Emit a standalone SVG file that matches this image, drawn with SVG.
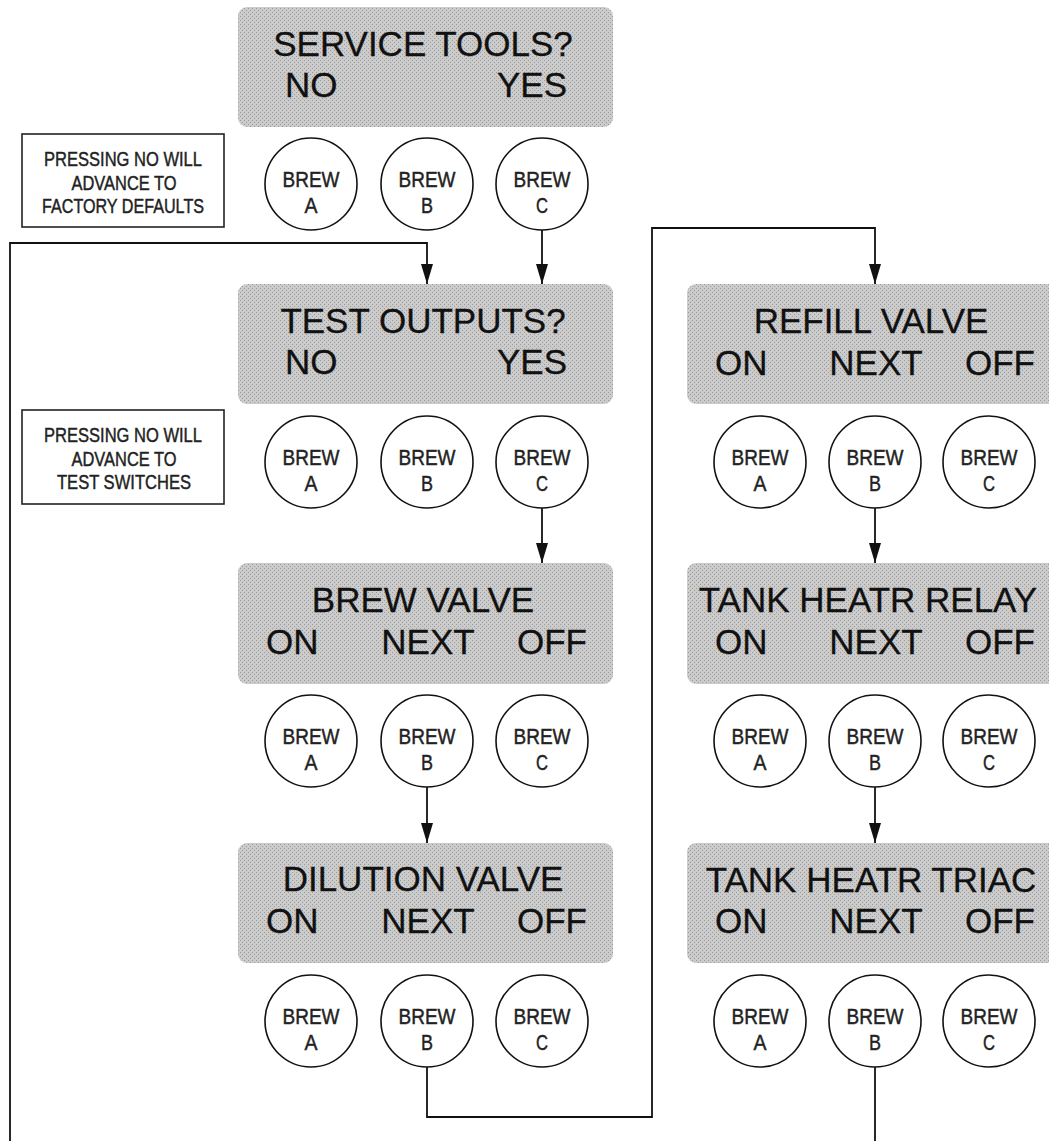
<svg xmlns="http://www.w3.org/2000/svg" width="1049" height="1141" viewBox="0 0 1049 1141">
<style>
.panel{fill:url(#dither)}
.pt{font-family:"Liberation Sans",Arial,Helvetica,sans-serif;font-size:35px;fill:#111;stroke:#111;stroke-width:0.3}
.btn{fill:#fff;stroke:#111;stroke-width:1.6}
.bt{font-family:"Liberation Sans",Arial,Helvetica,sans-serif;font-size:22px;fill:#222;stroke:#222;stroke-width:0.45;text-anchor:middle}
.note{fill:#fff;stroke:#222;stroke-width:1.6}
.nt{font-family:"Liberation Sans",Arial,Helvetica,sans-serif;font-size:21px;fill:#222;stroke:#222;stroke-width:0.45;text-anchor:middle}
.conn{fill:none;stroke:#111;stroke-width:1.8}
.mid{text-anchor:middle}
.end{text-anchor:end}
</style>
<defs>
<pattern id="dither" width="4" height="4" patternUnits="userSpaceOnUse">
<rect width="4" height="4" fill="#cbcbcb"/>
<rect x="0" y="0" width="1" height="1" fill="#9a9a9a"/>
<rect x="2" y="2" width="1" height="1" fill="#9a9a9a"/>
</pattern>
<marker id="arr" viewBox="0 0 20 12" refX="20" refY="6" markerWidth="20" markerHeight="12" markerUnits="userSpaceOnUse" orient="auto">
<path d="M0,0 L20,6 L0,12 z" fill="#111"/>
</marker>
<g id="buttons">
<circle class="btn" cx="0" cy="0" r="46"/>
</g>
</defs>

<!-- Connectors -->
<g id="connectors">
<path class="conn" d="M10,1141 V243 H427 V284" marker-end="url(#arr)"/>
<path class="conn" d="M542,230 V284" marker-end="url(#arr)"/>
<path class="conn" d="M542,508 V563" marker-end="url(#arr)"/>
<path class="conn" d="M427,787 V843" marker-end="url(#arr)"/>
<path class="conn" d="M427,1067 V1117 H652 V228 H875 V284" marker-end="url(#arr)"/>
<path class="conn" d="M875,508 V563" marker-end="url(#arr)"/>
<path class="conn" d="M875,787 V843" marker-end="url(#arr)"/>
<path class="conn" d="M875,1067 V1141"/>
</g>

<!-- Notes -->
<g id="note-factory">
<rect class="note" x="22" y="134" width="202" height="93"/>
<text class="nt" x="123" y="166" textLength="158" lengthAdjust="spacingAndGlyphs">PRESSING NO WILL</text>
<text class="nt" x="124" y="189.5" textLength="105" lengthAdjust="spacingAndGlyphs">ADVANCE TO</text>
<text class="nt" x="123" y="213" textLength="162" lengthAdjust="spacingAndGlyphs">FACTORY DEFAULTS</text>
</g>
<g id="note-switches">
<rect class="note" x="22" y="410" width="202" height="94"/>
<text class="nt" x="123" y="442" textLength="158" lengthAdjust="spacingAndGlyphs">PRESSING NO WILL</text>
<text class="nt" x="124" y="466" textLength="105" lengthAdjust="spacingAndGlyphs">ADVANCE TO</text>
<text class="nt" x="124" y="489" textLength="134" lengthAdjust="spacingAndGlyphs">TEST SWITCHES</text>
</g>

<!-- Panels -->
<g id="panel-service-tools">
<rect class="panel" x="238" y="7" width="375" height="120" rx="9"/>
<text class="pt mid" x="423" y="56">SERVICE TOOLS?</text>
<text class="pt" x="285" y="97">NO</text>
<text class="pt end" x="567" y="97">YES</text>
</g>
<g id="panel-test-outputs">
<rect class="panel" x="238" y="284" width="375" height="120" rx="9"/>
<text class="pt mid" x="423" y="333">TEST OUTPUTS?</text>
<text class="pt" x="285" y="374">NO</text>
<text class="pt end" x="567" y="374">YES</text>
</g>
<g id="panel-brew-valve">
<rect class="panel" x="238" y="563" width="375" height="121" rx="9"/>
<text class="pt mid" x="423" y="612">BREW VALVE</text>
<text class="pt" x="266" y="654">ON</text>
<text class="pt mid" x="428" y="654">NEXT</text>
<text class="pt end" x="587" y="654">OFF</text>
</g>
<g id="panel-dilution-valve">
<rect class="panel" x="238" y="843" width="375" height="120" rx="9"/>
<text class="pt mid" x="423" y="891">DILUTION VALVE</text>
<text class="pt" x="266" y="933">ON</text>
<text class="pt mid" x="428" y="933">NEXT</text>
<text class="pt end" x="587" y="933">OFF</text>
</g>
<g id="panel-refill-valve">
<rect class="panel" x="687" y="284" width="375" height="120" rx="9"/>
<text class="pt mid" x="871" y="333">REFILL VALVE</text>
<text class="pt" x="715" y="375">ON</text>
<text class="pt mid" x="876" y="375">NEXT</text>
<text class="pt end" x="1035" y="375">OFF</text>
</g>
<g id="panel-tank-heatr-relay">
<rect class="panel" x="687" y="563" width="375" height="121" rx="9"/>
<text class="pt mid" x="868" y="612">TANK HEATR RELAY</text>
<text class="pt" x="715" y="654">ON</text>
<text class="pt mid" x="876" y="654">NEXT</text>
<text class="pt end" x="1035" y="654">OFF</text>
</g>
<g id="panel-tank-heatr-triac">
<rect class="panel" x="687" y="843" width="375" height="120" rx="9"/>
<text class="pt mid" x="871" y="892">TANK HEATR TRIAC</text>
<text class="pt" x="715" y="933">ON</text>
<text class="pt mid" x="876" y="933">NEXT</text>
<text class="pt end" x="1035" y="933">OFF</text>
</g>

<!-- Buttons row 1 -->
<g id="btn-r1-a"><use href="#buttons" x="311" y="184"/><text class="bt" x="311" y="187" textLength="57" lengthAdjust="spacingAndGlyphs">BREW</text><text class="bt" x="311" y="213" textLength="13" lengthAdjust="spacingAndGlyphs">A</text></g>
<g id="btn-r1-b"><use href="#buttons" x="427" y="184"/><text class="bt" x="427" y="187" textLength="57" lengthAdjust="spacingAndGlyphs">BREW</text><text class="bt" x="427" y="213" textLength="12" lengthAdjust="spacingAndGlyphs">B</text></g>
<g id="btn-r1-c"><use href="#buttons" x="542" y="184"/><text class="bt" x="542" y="187" textLength="57" lengthAdjust="spacingAndGlyphs">BREW</text><text class="bt" x="542" y="213" textLength="12" lengthAdjust="spacingAndGlyphs">C</text></g>
<!-- Buttons row 2 left -->
<g id="btn-r2-a"><use href="#buttons" x="311" y="462"/><text class="bt" x="311" y="465" textLength="57" lengthAdjust="spacingAndGlyphs">BREW</text><text class="bt" x="311" y="491" textLength="13" lengthAdjust="spacingAndGlyphs">A</text></g>
<g id="btn-r2-b"><use href="#buttons" x="427" y="462"/><text class="bt" x="427" y="465" textLength="57" lengthAdjust="spacingAndGlyphs">BREW</text><text class="bt" x="427" y="491" textLength="12" lengthAdjust="spacingAndGlyphs">B</text></g>
<g id="btn-r2-c"><use href="#buttons" x="542" y="462"/><text class="bt" x="542" y="465" textLength="57" lengthAdjust="spacingAndGlyphs">BREW</text><text class="bt" x="542" y="491" textLength="12" lengthAdjust="spacingAndGlyphs">C</text></g>
<!-- Buttons row 3 left -->
<g id="btn-r3-a"><use href="#buttons" x="311" y="741"/><text class="bt" x="311" y="744" textLength="57" lengthAdjust="spacingAndGlyphs">BREW</text><text class="bt" x="311" y="770" textLength="13" lengthAdjust="spacingAndGlyphs">A</text></g>
<g id="btn-r3-b"><use href="#buttons" x="427" y="741"/><text class="bt" x="427" y="744" textLength="57" lengthAdjust="spacingAndGlyphs">BREW</text><text class="bt" x="427" y="770" textLength="12" lengthAdjust="spacingAndGlyphs">B</text></g>
<g id="btn-r3-c"><use href="#buttons" x="542" y="741"/><text class="bt" x="542" y="744" textLength="57" lengthAdjust="spacingAndGlyphs">BREW</text><text class="bt" x="542" y="770" textLength="12" lengthAdjust="spacingAndGlyphs">C</text></g>
<!-- Buttons row 4 left -->
<g id="btn-r4-a"><use href="#buttons" x="311" y="1021"/><text class="bt" x="311" y="1024" textLength="57" lengthAdjust="spacingAndGlyphs">BREW</text><text class="bt" x="311" y="1050" textLength="13" lengthAdjust="spacingAndGlyphs">A</text></g>
<g id="btn-r4-b"><use href="#buttons" x="427" y="1021"/><text class="bt" x="427" y="1024" textLength="57" lengthAdjust="spacingAndGlyphs">BREW</text><text class="bt" x="427" y="1050" textLength="12" lengthAdjust="spacingAndGlyphs">B</text></g>
<g id="btn-r4-c"><use href="#buttons" x="542" y="1021"/><text class="bt" x="542" y="1024" textLength="57" lengthAdjust="spacingAndGlyphs">BREW</text><text class="bt" x="542" y="1050" textLength="12" lengthAdjust="spacingAndGlyphs">C</text></g>
<!-- Buttons right column -->
<g id="btn-r2r-a"><use href="#buttons" x="760" y="462"/><text class="bt" x="760" y="465" textLength="57" lengthAdjust="spacingAndGlyphs">BREW</text><text class="bt" x="760" y="491" textLength="13" lengthAdjust="spacingAndGlyphs">A</text></g>
<g id="btn-r2r-b"><use href="#buttons" x="875" y="462"/><text class="bt" x="875" y="465" textLength="57" lengthAdjust="spacingAndGlyphs">BREW</text><text class="bt" x="875" y="491" textLength="12" lengthAdjust="spacingAndGlyphs">B</text></g>
<g id="btn-r2r-c"><use href="#buttons" x="989" y="462"/><text class="bt" x="989" y="465" textLength="57" lengthAdjust="spacingAndGlyphs">BREW</text><text class="bt" x="989" y="491" textLength="12" lengthAdjust="spacingAndGlyphs">C</text></g>
<g id="btn-r3r-a"><use href="#buttons" x="760" y="741"/><text class="bt" x="760" y="744" textLength="57" lengthAdjust="spacingAndGlyphs">BREW</text><text class="bt" x="760" y="770" textLength="13" lengthAdjust="spacingAndGlyphs">A</text></g>
<g id="btn-r3r-b"><use href="#buttons" x="875" y="741"/><text class="bt" x="875" y="744" textLength="57" lengthAdjust="spacingAndGlyphs">BREW</text><text class="bt" x="875" y="770" textLength="12" lengthAdjust="spacingAndGlyphs">B</text></g>
<g id="btn-r3r-c"><use href="#buttons" x="989" y="741"/><text class="bt" x="989" y="744" textLength="57" lengthAdjust="spacingAndGlyphs">BREW</text><text class="bt" x="989" y="770" textLength="12" lengthAdjust="spacingAndGlyphs">C</text></g>
<g id="btn-r4r-a"><use href="#buttons" x="760" y="1021"/><text class="bt" x="760" y="1024" textLength="57" lengthAdjust="spacingAndGlyphs">BREW</text><text class="bt" x="760" y="1050" textLength="13" lengthAdjust="spacingAndGlyphs">A</text></g>
<g id="btn-r4r-b"><use href="#buttons" x="875" y="1021"/><text class="bt" x="875" y="1024" textLength="57" lengthAdjust="spacingAndGlyphs">BREW</text><text class="bt" x="875" y="1050" textLength="12" lengthAdjust="spacingAndGlyphs">B</text></g>
<g id="btn-r4r-c"><use href="#buttons" x="989" y="1021"/><text class="bt" x="989" y="1024" textLength="57" lengthAdjust="spacingAndGlyphs">BREW</text><text class="bt" x="989" y="1050" textLength="12" lengthAdjust="spacingAndGlyphs">C</text></g>
</svg>
